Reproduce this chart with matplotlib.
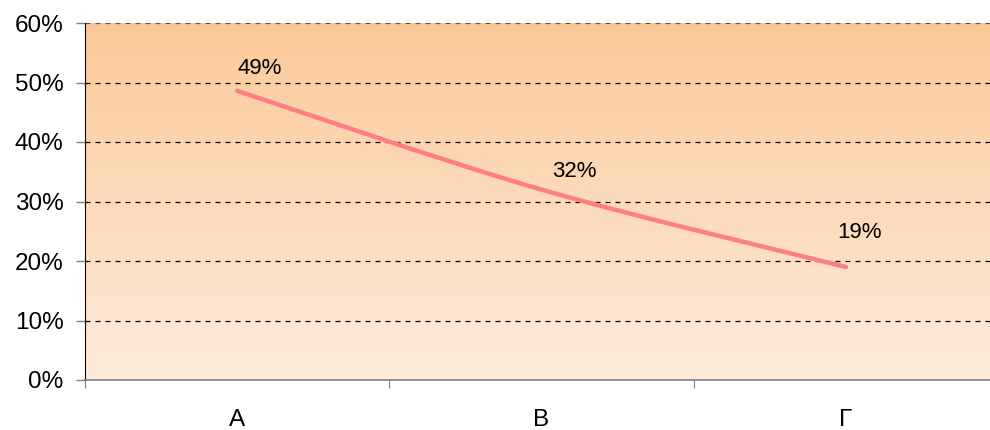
import numpy as np
import matplotlib.pyplot as plt
from matplotlib.path import Path
from matplotlib.patches import PathPatch
from matplotlib.colors import LinearSegmentedColormap

plt.rcParams['font.family'] = ['Liberation Sans', 'DejaVu Sans']

# data
categories = ['A', 'B', 'Γ']
shares = [48.6, 32.0, 19.0]
share_labels = ['49%', '32%', '19%']
y_ticks = [0, 10, 20, 30, 40, 50, 60]

fig = plt.figure(figsize=(9.9, 4.3), dpi=100)
ax = fig.add_axes([85 / 990, 50 / 430, 913 / 990, 357 / 430])

x = np.arange(len(categories))
ax.set_xlim(-0.5, len(categories) - 0.5)
ax.set_ylim(0, 60)

# orange gradient background, darker at the top
cmap = LinearSegmentedColormap.from_list('bg', ['#FDEBDC', '#FBC998'])
grad = np.linspace(0, 1, 256).reshape(-1, 1)
ax.imshow(grad, cmap=cmap, origin='lower', aspect='auto',
          extent=[-0.5, len(categories) - 0.5, 0, 60], zorder=0)

# dashed gridlines
for t in y_ticks[1:]:
    ax.axhline(t, color='#000000' if t < 60 else '#555555', lw=0.9,
               ls=(0, (4, 4)), zorder=1)

# smoothed line through the points (cubic bezier, catmull-rom style)
pts = np.column_stack([x, shares]).astype(float)
verts = [pts[0]]
codes = [Path.MOVETO]
for i in range(len(pts) - 1):
    p0 = pts[max(i - 1, 0)]
    p1 = pts[i]
    p2 = pts[i + 1]
    p3 = pts[min(i + 2, len(pts) - 1)]
    verts += [p1 + (p2 - p0) / 6, p2 - (p3 - p1) / 6, p2]
    codes += [Path.CURVE4] * 3
ax.add_patch(PathPatch(Path(verts, codes), facecolor='none', edgecolor='#FF7F80',
                       lw=3.2, capstyle='round', joinstyle='round', zorder=3))

# value labels
offsets = [(16, 16), (24, 13), (10, 25)]
for xi, yi, lab, off in zip(x, shares, share_labels, offsets):
    ax.annotate(lab, (xi, yi), xytext=off, textcoords='offset points',
                ha='center', va='center', fontsize=16, color='black', zorder=4)

ax.set_yticks(y_ticks)
ax.set_yticklabels([f'{t}%' for t in y_ticks], fontsize=17.5)
ax.set_xticks(np.arange(len(categories) + 1) - 0.5, minor=False)
ax.set_xticklabels([])
ax.set_xticks(x, minor=True)
ax.set_xticklabels(categories, minor=True, fontsize=17.5)
ax.tick_params(axis='x', which='major', direction='out', length=6, color='#808080')
ax.tick_params(axis='x', which='minor', length=0, pad=21)
ax.tick_params(axis='y', direction='out', length=6.5, width=1, color='#808080', pad=9)

for side in ['top', 'right']:
    ax.spines[side].set_visible(False)
ax.spines['left'].set_color('black')
ax.spines['bottom'].set_color('#808080')
ax.spines['bottom'].set_linewidth(1.2)

fig.savefig('out.png', dpi=100)
